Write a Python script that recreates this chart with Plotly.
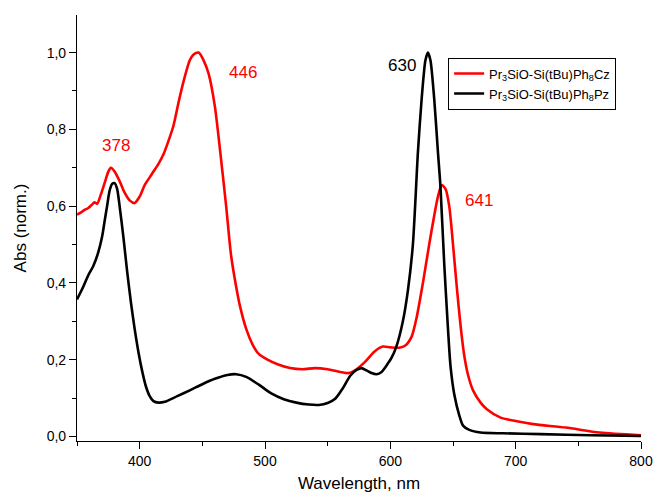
import plotly.graph_objects as go

# Absorption spectra, normalised
wl_cz = [350, 353, 356, 359, 362, 364, 366, 369, 372, 375, 377, 380, 384, 388, 392, 396,
         400, 404, 408, 411, 415, 419, 423, 427, 431, 435, 440, 443, 447, 451, 455, 460,
         464, 469, 473, 477, 480, 485, 490, 495, 502, 510, 520, 530, 540, 550, 560, 567,
         573, 580, 587, 594, 600, 607, 612, 617, 621, 626, 631, 635, 638, 641, 644, 647,
         650, 653, 656, 659, 662, 666, 672, 677, 688, 700, 714, 740, 767, 800]
abs_cz = [0.578, 0.583, 0.59, 0.595, 0.604, 0.61, 0.606, 0.63, 0.66, 0.69, 0.70, 0.69, 0.665, 0.635, 0.615, 0.608,
          0.625, 0.655, 0.675, 0.69, 0.71, 0.735, 0.77, 0.81, 0.87, 0.925, 0.98, 0.995, 1.0, 0.98, 0.945, 0.86,
          0.75, 0.60, 0.47, 0.39, 0.34, 0.28, 0.24, 0.215, 0.20, 0.188, 0.178, 0.175, 0.178, 0.175, 0.168, 0.165,
          0.175, 0.195, 0.22, 0.234, 0.232, 0.231, 0.237, 0.26, 0.31, 0.40, 0.50, 0.575, 0.625, 0.655, 0.645, 0.60,
          0.50, 0.39, 0.29, 0.21, 0.16, 0.12, 0.088, 0.071, 0.049, 0.04, 0.032, 0.023, 0.01, 0.003]

wl_pz = [350, 355, 359, 363, 367, 370, 372, 374, 376, 378, 380, 382, 384, 387, 390, 393,
         396, 399, 402, 405, 408, 411, 415, 420, 430, 440, 450, 460, 470, 477, 485, 495,
         505, 515, 525, 535, 543, 550, 556, 562, 568, 573, 577, 581, 585, 589, 593, 597,
         601, 605, 610, 614, 618, 622, 625, 628, 630, 632, 635, 638, 640, 643, 646, 648,
         651, 655, 658, 663, 672, 690, 720, 760, 800]
abs_pz = [0.357, 0.39, 0.42, 0.444, 0.48, 0.52, 0.56, 0.60, 0.64, 0.658, 0.66, 0.645, 0.60, 0.52, 0.43, 0.35,
          0.28, 0.22, 0.17, 0.13, 0.105, 0.092, 0.088, 0.09, 0.105, 0.12, 0.136, 0.15, 0.16, 0.162, 0.155, 0.135,
          0.112, 0.097, 0.088, 0.083, 0.082, 0.087, 0.098, 0.125, 0.158, 0.173, 0.178, 0.172, 0.165, 0.162, 0.168, 0.185,
          0.205, 0.236, 0.30, 0.38, 0.50, 0.74, 0.88, 0.98, 1.0, 0.98, 0.88, 0.74, 0.65, 0.45, 0.28, 0.184,
          0.11, 0.055, 0.028, 0.017, 0.01, 0.008, 0.006, 0.003, 0.001]

peak_labels = ["378", "446", "630", "641"]
peak_x = [378, 446, 630, 641]
peak_y = [0.70, 1.0, 1.0, 0.655]
peak_colors = ["#ff0000", "#ff0000", "#000000", "#ff0000"]
label_dx = [4, 46, -26, 37]
label_dy = [22, -20, -13, -15]

font_family = "Liberation Sans, Arial, sans-serif"

fig = go.Figure()
fig.add_trace(go.Scatter(
    x=wl_cz, y=abs_cz, mode="lines", name="Pr<sub>3</sub>SiO-Si(tBu)Ph<sub>8</sub>Cz",
    line=dict(color="#ff0000", width=2.6, shape="spline", smoothing=0.7)))
fig.add_trace(go.Scatter(
    x=wl_pz, y=abs_pz, mode="lines", name="Pr<sub>3</sub>SiO-Si(tBu)Ph<sub>8</sub>Pz",
    line=dict(color="#000000", width=2.6, shape="spline", smoothing=0.7)))

for txt, px, py, col, dx, dy in zip(peak_labels, peak_x, peak_y, peak_colors, label_dx, label_dy):
    fig.add_annotation(x=px, y=py, text=txt, showarrow=False, xshift=dx, yshift=dy,
                       xanchor="center", yanchor="middle",
                       font=dict(color=col, size=17, family=font_family))

fig.update_layout(
    width=658, height=493,
    margin=dict(l=77, r=17, t=15, b=52),
    paper_bgcolor="white", plot_bgcolor="white",
    separators=",.",
    font=dict(family=font_family, color="#000000", size=14),
    showlegend=True,
    legend=dict(x=0.658, y=0.9, xanchor="left", yanchor="top",
                bordercolor="#000000", borderwidth=1, bgcolor="white",
                font=dict(size=13, family=font_family),
                itemwidth=30, tracegroupgap=0),
)
fig.update_xaxes(
    range=[350, 800], tick0=400, dtick=100, ticks="outside", ticklen=7, tickwidth=1.2,
    tickcolor="#000", showline=True, linecolor="#000", linewidth=1.2, showgrid=False,
    zeroline=False, tickfont=dict(size=14), automargin=False,
    minor=dict(dtick=50, tick0=350, ticks="outside", ticklen=4, tickcolor="#000", showgrid=False),
    title=dict(text="Wavelength, nm", font=dict(size=17)),
)
fig.update_yaxes(
    range=[-0.012, 1.098], tick0=0, dtick=0.2, tickformat=".1f", ticks="outside", ticklen=7,
    tickwidth=1.2, tickcolor="#000", showline=True, linecolor="#000", linewidth=1.2,
    showgrid=False, zeroline=False, tickfont=dict(size=14), automargin=False,
    minor=dict(dtick=0.1, tick0=0, ticks="outside", ticklen=4, tickcolor="#000", showgrid=False),
    title=dict(text="Abs (norm.)", font=dict(size=17)),
)

fig.write_html("out.html")
